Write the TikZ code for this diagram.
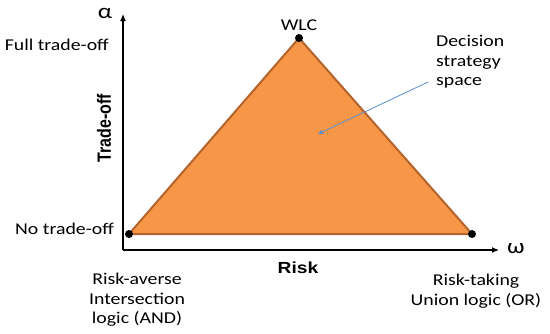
\documentclass[tikz,border=0pt]{standalone}
\usepackage{fontspec}
\setmainfont{Carlito}[FakeStretch=1.2]
\newfontfamily\arialbold{Liberation Sans Bold}[FakeStretch=1.2]
\newfontfamily\arialboldv{Liberation Sans Bold}
\usetikzlibrary{arrows.meta}
\definecolor{triorange}{HTML}{F79646}
\definecolor{triedge}{HTML}{B3642C}
\definecolor{pointer}{HTML}{5B8FD0}
\begin{document}
\begin{tikzpicture}[x=1pt,y=-1pt,
  lbl/.style={inner sep=0pt,font=\fontsize{16.5}{19.5}\selectfont},
  greek/.style={inner sep=0pt,font=\fontsize{21}{24}\selectfont},
  axislbl/.style={inner sep=0pt,font=\fontsize{16}{19}\arialbold},
  axis/.style={line width=1.1pt,-{Latex[length=7pt,width=6pt]}},
  dot/.style={circle,fill=black,inner sep=0pt,minimum size=8pt}]
\useasboundingbox (0,0) rectangle (550,333);
% axes
\coordinate (O) at (123,250);
\coordinate (ytip) at (123,14);
\coordinate (xtip) at (499,250);
\draw[axis] (O) -- (ytip);
\draw[axis] (O) -- (xtip);
% triangle
\coordinate (L) at (129,234);
\coordinate (T) at (299,38);
\coordinate (R) at (472,234);
\draw[fill=triorange,draw=triedge,line width=2pt,line join=round] (L) -- (T) -- (R) -- cycle;
\node[dot] (dL) at (L) {};
\node[dot] (dT) at (T) {};
\node[dot] (dR) at (R) {};
% labels
\node[greek] (alpha) at (105,13) {α};
\node[greek] (omega) at (516,249) {ω};
\node[lbl] (wlc) at (299,25) {WLC};
\node[lbl,anchor=east] (full) at (109,45) {Full trade-off};
\node[lbl,anchor=east] (none) at (114,229) {No trade-off};
\node[inner sep=0pt,rotate=90] (tradeoff) at (104,128) {\scalebox{1}[1.2]{\fontsize{16}{19}\arialboldv Trade-off}};
\node[axislbl] (risk) at (298,268) {Risk};
\node[lbl,align=left,anchor=north west] (space) at (436,35) {Decision\\strategy\\space};
\node[lbl,align=center] (averse) at (137,300) {Risk-averse\\Intersection\\logic (AND)};
\node[lbl,align=center] (taking) at (476,291) {Risk-taking\\Union logic (OR)};
\coordinate (tail) at (428,82);
\coordinate (inside) at (318,134);
\draw[pointer,line width=0.8pt,-{Stealth[length=6pt,width=5pt]}] (tail) -- (inside);
\end{tikzpicture}
\end{document}
